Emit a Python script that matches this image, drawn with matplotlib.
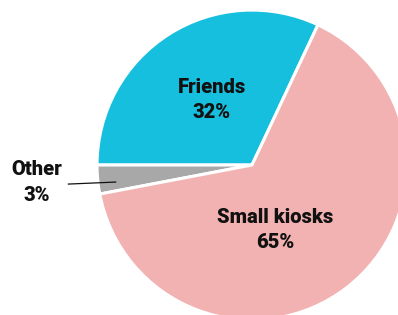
import matplotlib.pyplot as plt

labels = ["Friends", "Other", "Small kiosks"]
shares = [32, 3, 65]
colors = ["#17BFDF", "#A8A8A8", "#F2B2B2"]

fig = plt.figure(figsize=(3.98, 3.15), dpi=100)
ax = fig.add_axes([0, 0, 1, 1])

ax.pie(shares, colors=colors, startangle=64.8, counterclock=True,
       radius=1, center=(0, 0),
       wedgeprops=dict(edgecolor="white", linewidth=2.2))

ax.set_aspect("equal")
ax.set_xlim(-1.626, 0.942)
ax.set_ylim(-0.968, 1.065)
ax.axis("off")

font = dict(fontsize=14.5, fontweight="heavy", family="Roboto", color="#111111",
            ha="center", va="center", linespacing=1.45)
ax.text(-0.258, 0.42, f"{labels[0]}\n{shares[0]}%", **font)
ax.text(0.148, -0.42, f"{labels[2]}\n{shares[2]}%", **font)
ax.text(-1.39, -0.115, f"{labels[1]}\n{shares[1]}%", **font)
ax.plot([-1.185, -0.88], [-0.123, -0.11], color="#111111", linewidth=0.9)

fig.savefig("out.png", dpi=100)
